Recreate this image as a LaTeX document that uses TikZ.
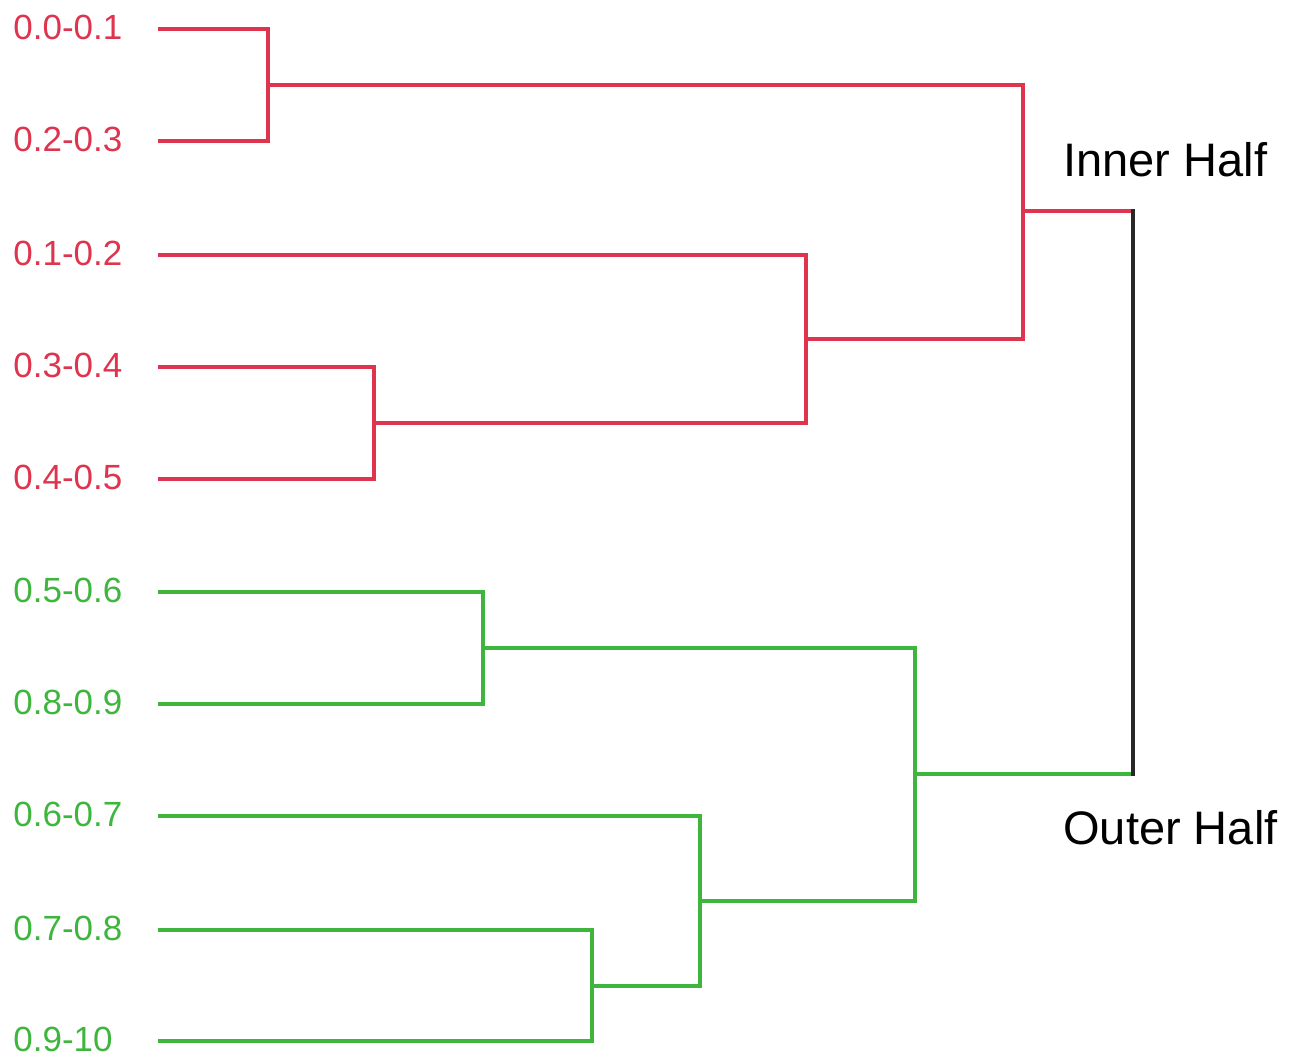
\documentclass[tikz,border=0pt]{standalone}
\usepackage{fontspec}
\setmainfont{Liberation Sans}
\definecolor{dred}{RGB}{222,52,78}
\definecolor{dgreen}{RGB}{62,182,62}
\definecolor{dblack}{RGB}{40,40,40}
\begin{document}
\begin{tikzpicture}[x=0.5pt,y=-0.5pt,
  leaf/.style={anchor=west,inner sep=0pt,font=\fontsize{17.5}{20}\selectfont},
  redleaf/.style={leaf,text=dred},
  greenleaf/.style={leaf,text=dgreen},
  grp/.style={anchor=west,inner sep=0pt,font=\fontsize{23.5}{26}\selectfont,text=black},
  redline/.style={draw=dred,line width=1.7pt},
  greenline/.style={draw=dgreen,line width=1.7pt},
  rootline/.style={draw=dblack,line width=1.7pt}]
\useasboundingbox (0,0) rectangle (1305,1057);
% leaf labels
\node[redleaf] (l1) at (13,27) {0.0-0.1};
\node[redleaf] (l2) at (13,139) {0.2-0.3};
\node[redleaf] (l3) at (13,253) {0.1-0.2};
\node[redleaf] (l4) at (13,365) {0.3-0.4};
\node[redleaf] (l5) at (13,477) {0.4-0.5};
\node[greenleaf] (l6) at (13,590) {0.5-0.6};
\node[greenleaf] (l7) at (13,702) {0.8-0.9};
\node[greenleaf] (l8) at (13,814) {0.6-0.7};
\node[greenleaf] (l9) at (13,928) {0.7-0.8};
\node[greenleaf] (l10) at (13,1039) {0.9-10};
% leaf line starts
\coordinate (s1) at (158,29);
\coordinate (s2) at (158,141);
\coordinate (s3) at (158,255);
\coordinate (s4) at (158,367);
\coordinate (s5) at (158,479);
\coordinate (s6) at (158,592);
\coordinate (s7) at (158,704);
\coordinate (s8) at (158,816);
\coordinate (s9) at (158,930);
\coordinate (s10) at (158,1041);
% merge points
\coordinate (m12) at (268,85);
\coordinate (m45) at (374,423);
\coordinate (m345) at (806,339);
\coordinate (mred) at (1023,211);
\coordinate (m67) at (483,648);
\coordinate (m910) at (592,986);
\coordinate (m8910) at (700,901);
\coordinate (mgreen) at (915,774);
\coordinate (rtop) at (1133,211);
\coordinate (rbot) at (1133,774);
% red cluster
\draw[redline] (s1) -| (m12) |- (s2);
\draw[redline] (s4) -| (m45) |- (s5);
\draw[redline] (s3) -| (m345) |- (m45);
\draw[redline] (m12) -| (mred) |- (m345);
\draw[redline] (mred) -- (rtop);
% green cluster
\draw[greenline] (s6) -| (m67) |- (s7);
\draw[greenline] (s9) -| (m910) |- (s10);
\draw[greenline] (s8) -| (m8910) |- (m910);
\draw[greenline] (m67) -| (mgreen) |- (m8910);
\draw[greenline] (mgreen) -- (rbot);
% root
\draw[rootline,line cap=rect] (rtop) -- (rbot);
% group labels
\node[grp] (inner) at (1063,160) {Inner Half};
\node[grp] (outer) at (1063,828) {Outer Half};
\end{tikzpicture}
\end{document}
